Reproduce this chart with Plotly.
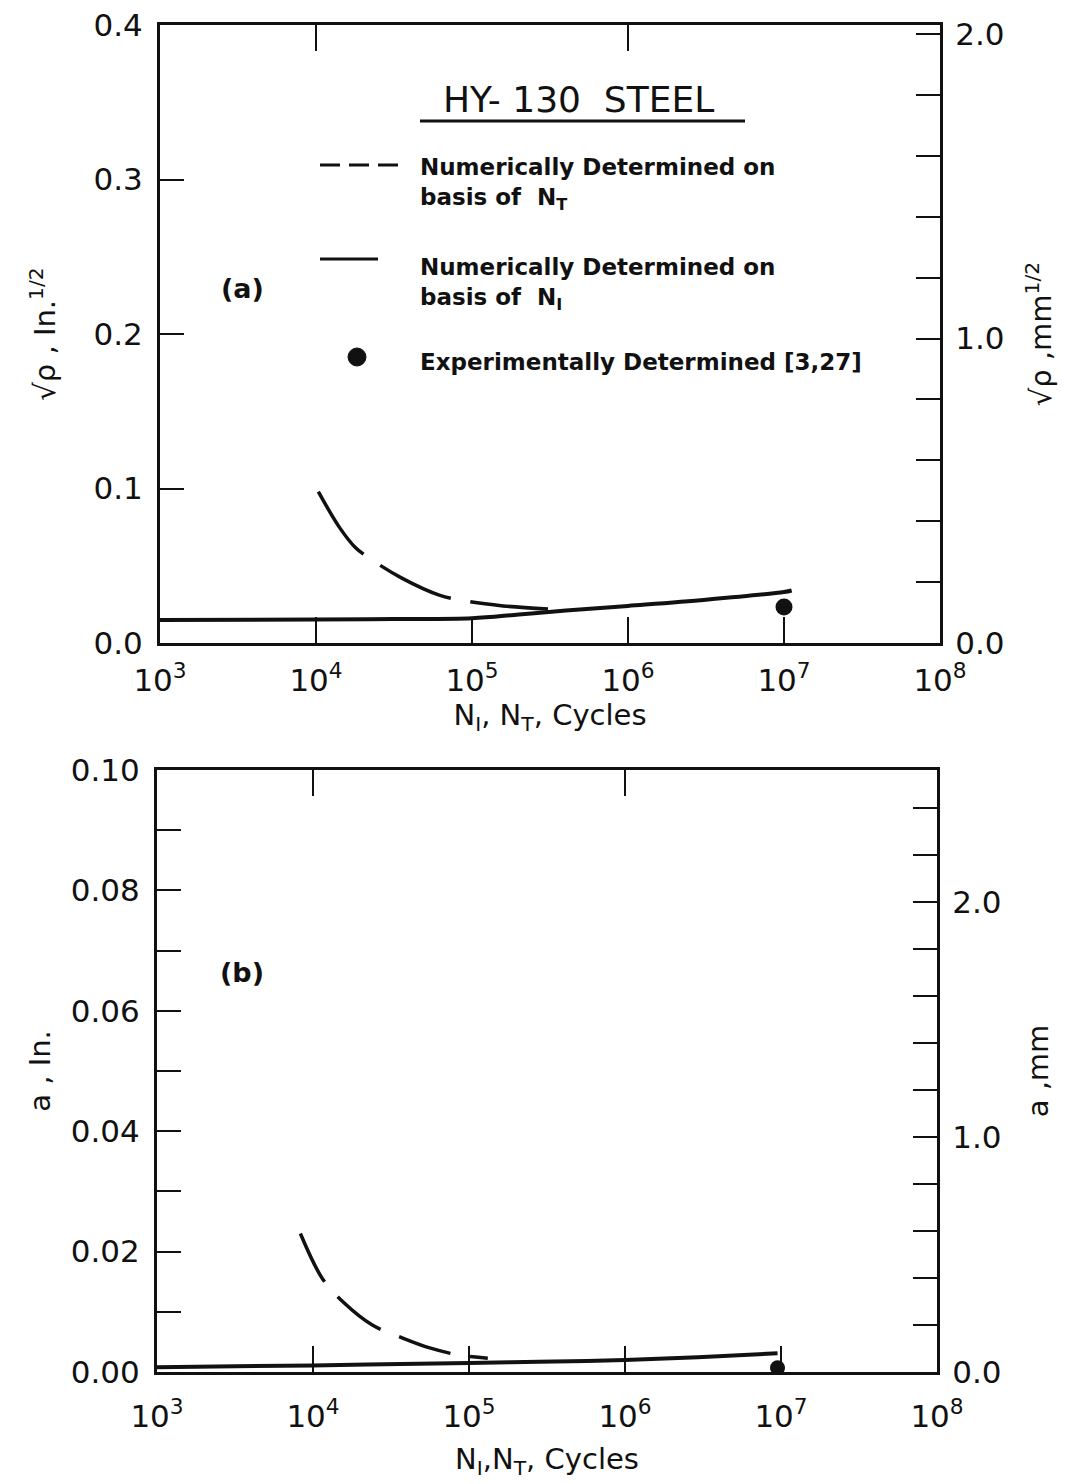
import plotly.graph_objects as go

# ---------------- data ----------------
# Panel (a): sqrt(rho), in^1/2 vs cycles
a_nt_cycles = [1.035e4, 1.41e4, 1.78e4, 2.19e4, 3.55e4, 6.17e4, 9.3e4, 1.58e5, 3.09e5]
a_nt_rho = [0.098, 0.075, 0.062, 0.055, 0.042, 0.031, 0.027, 0.024, 0.022]
a_ni_cycles = [1e3, 1e4, 3.16e4, 1e5, 2.0e5, 4.0e5, 1e6, 3.16e6, 1e7, 1.12e7]
a_ni_rho = [0.0149, 0.0152, 0.0155, 0.016, 0.0185, 0.021, 0.024, 0.028, 0.033, 0.034]
a_exp_cycles = [1.0e7]
a_exp_rho = [0.0233]

# Panel (b): a, in vs cycles
b_nt_cycles = [8.3e3, 1.15e4, 1.58e4, 2.4e4, 3.63e4, 5.6e4, 8.7e4, 1.32e5]
b_nt_a = [0.023, 0.0155, 0.0115, 0.0078, 0.0058, 0.0040, 0.0028, 0.0023]
b_ni_cycles = [1e3, 1e4, 1e5, 2.8e5, 1e6, 3.16e6, 9.5e6]
b_ni_a = [0.0008, 0.0011, 0.0015, 0.0017, 0.0020, 0.0025, 0.0031]
b_exp_cycles = [9.5e6]
b_exp_a = [0.0007]

x_tickvals = [1e3, 1e4, 1e5, 1e6, 1e7, 1e8]
x_ticktext = ["10<sup>3</sup>", "10<sup>4</sup>", "10<sup>5</sup>",
              "10<sup>6</sup>", "10<sup>7</sup>", "10<sup>8</sup>"]

a_left_vals = [0.0, 0.1, 0.2, 0.3, 0.4]
a_left_text = ["0.0", "0.1", "0.2", "0.3", "0.4"]
a_right_vals = [0.0, 0.2, 0.4, 0.6, 0.8, 1.0, 1.2, 1.4, 1.6, 1.8, 2.0]
a_right_text = ["0.0", " ", " ", " ", " ", "1.0", " ", " ", " ", " ", "2.0"]
b_left_vals = [0.00, 0.01, 0.02, 0.03, 0.04, 0.05, 0.06, 0.07, 0.08, 0.09, 0.10]
b_left_text = ["0.00", " ", "0.02", " ", "0.04", " ", "0.06", " ", "0.08", " ", "0.10"]
b_right_vals = [0.0, 0.2, 0.4, 0.6, 0.8, 1.0, 1.2, 1.4, 1.6, 1.8, 2.0, 2.2, 2.4]
b_right_text = ["0.0", " ", " ", " ", " ", "1.0", " ", " ", " ", " ", "2.0", " ", " "]

FONT = "DejaVu Sans"
BLACK = "#111111"
W, H = 1066, 1484


def px(x):
    return x / W


def py(y):
    return 1 - y / H


fig = go.Figure()

# Panel (a)
fig.add_trace(go.Scatter(x=a_nt_cycles, y=a_nt_rho, mode="lines", line_shape="spline",
                         line=dict(color=BLACK, width=3.5, dash="78px,20px"),
                         xaxis="x", yaxis="y", showlegend=False))
fig.add_trace(go.Scatter(x=a_ni_cycles, y=a_ni_rho, mode="lines", line_shape="spline",
                         line=dict(color=BLACK, width=4),
                         xaxis="x", yaxis="y", showlegend=False))
fig.add_trace(go.Scatter(x=a_exp_cycles, y=a_exp_rho, mode="markers",
                         marker=dict(color=BLACK, size=17),
                         xaxis="x", yaxis="y", showlegend=False))
# Panel (b)
fig.add_trace(go.Scatter(x=b_nt_cycles, y=b_nt_a, mode="lines", line_shape="spline",
                         line=dict(color=BLACK, width=3.5, dash="54px,20px"),
                         xaxis="x2", yaxis="y3", showlegend=False))
fig.add_trace(go.Scatter(x=b_ni_cycles, y=b_ni_a, mode="lines", line_shape="spline",
                         line=dict(color=BLACK, width=4),
                         xaxis="x2", yaxis="y3", showlegend=False))
fig.add_trace(go.Scatter(x=b_exp_cycles, y=b_exp_a, mode="markers",
                         marker=dict(color=BLACK, size=15),
                         xaxis="x2", yaxis="y3", showlegend=False))
# invisible traces to activate secondary axes
for xa, ya in [("x", "y2"), ("x2", "y4"), ("x3", "y"), ("x4", "y3")]:
    fig.add_trace(go.Scatter(x=[None], y=[None], xaxis=xa, yaxis=ya,
                             showlegend=False, hoverinfo="skip"))

tick_font = dict(family=FONT, size=31, color=BLACK)
title_font = dict(family=FONT, size=29, color=BLACK)

xdom_a = [px(160), px(940)]
ydom_a = [py(643), py(25)]
xdom_b = [px(157), px(937)]
ydom_b = [py(1372), py(770)]

common_x = dict(type="log", range=[3, 8], showline=True, linecolor=BLACK, linewidth=3,
                ticks="inside", ticklen=26, tickwidth=2, tickcolor=BLACK,
                tickvals=x_tickvals, ticktext=x_ticktext, tickfont=tick_font,
                automargin=False, showgrid=False, zeroline=False, mirror=True)

common_y = dict(showline=True, linecolor=BLACK, linewidth=3, ticks="inside", ticklen=24,
                tickwidth=2, tickcolor=BLACK, tickfont=tick_font, showgrid=False,
                zeroline=False, automargin=False)

fig.update_layout(
    width=W, height=H,
    margin=dict(l=0, r=0, t=0, b=0, autoexpand=False),
    paper_bgcolor="white", plot_bgcolor="white",
    font=dict(family=FONT, color=BLACK),
    xaxis=dict(common_x, domain=xdom_a, anchor="y", ticklabelstandoff=8,
               title=dict(text="N<sub>I</sub>, N<sub>T</sub>, Cycles", font=title_font, standoff=8)),
    xaxis2=dict(common_x, domain=xdom_b, anchor="y3", ticklabelstandoff=15,
                title=dict(text="N<sub>I</sub>,N<sub>T</sub>, Cycles", font=title_font, standoff=16)),
    xaxis3=dict(type="log", range=[3, 8], overlaying="x", anchor="y", side="top",
                ticks="inside", ticklen=26, tickwidth=2, tickcolor=BLACK, automargin=False,
                tickvals=[1e4, 1e6], showticklabels=False, showgrid=False, showline=False),
    xaxis4=dict(type="log", range=[3, 8], overlaying="x2", anchor="y3", side="top",
                ticks="inside", ticklen=26, tickwidth=2, tickcolor=BLACK, automargin=False,
                tickvals=[1e4, 1e6], showticklabels=False, showgrid=False, showline=False),
    yaxis=dict(common_y, domain=ydom_a, anchor="x", range=[0, 0.4],
               tickvals=a_left_vals, ticktext=a_left_text, ticklabelstandoff=8,
               title=dict(text="√ρ , In.<sup>1/2</sup>", font=title_font, standoff=30)),
    yaxis2=dict(common_y, overlaying="y", anchor="x", side="right", range=[0, 2.03],
                tickvals=a_right_vals, ticktext=a_right_text, ticklabelstandoff=6,
                title=dict(text="√ρ ,mm<sup>1/2</sup>", font=title_font, standoff=28)),
    yaxis3=dict(common_y, domain=ydom_b, anchor="x2", range=[0, 0.1],
                tickvals=b_left_vals, ticktext=b_left_text, ticklabelstandoff=8,
                title=dict(text="a , In.", font=title_font, standoff=12)),
    yaxis4=dict(common_y, overlaying="y3", anchor="x2", side="right", range=[0, 2.56],
                tickvals=b_right_vals, ticktext=b_right_text, ticklabelstandoff=6,
                title=dict(text="a ,mm", font=title_font, standoff=28)),
)

leg_font = dict(family=FONT, size=23, color=BLACK, weight="bold")
ann = []
ann.append(dict(text="HY- 130  STEEL", x=px(578), y=py(100), xref="paper", yref="paper",
                xanchor="center", yanchor="middle",
                showarrow=False, font=dict(family=FONT, size=36, color=BLACK)))
ann.append(dict(text="Numerically Determined on<br>basis of  N<sub>T</sub>", x=px(418), y=py(152),
                xref="paper", yref="paper", xanchor="left", yanchor="top", align="left",
                showarrow=False, font=leg_font))
ann.append(dict(text="Numerically Determined on<br>basis of  N<sub>I</sub>", x=px(418), y=py(252),
                xref="paper", yref="paper", xanchor="left", yanchor="top", align="left",
                showarrow=False, font=leg_font))
ann.append(dict(text="Experimentally Determined [3,27]", x=px(418), y=py(362),
                xref="paper", yref="paper", xanchor="left", yanchor="middle", align="left",
                showarrow=False, font=leg_font))
ann.append(dict(text="(a)", x=px(242), y=py(288), xref="paper", yref="paper",
                xanchor="center", yanchor="middle",
                showarrow=False, font=dict(family=FONT, size=27, color=BLACK, weight="bold")))
ann.append(dict(text="(b)", x=px(242), y=py(972), xref="paper", yref="paper",
                xanchor="center", yanchor="middle",
                showarrow=False, font=dict(family=FONT, size=27, color=BLACK, weight="bold")))
fig.update_layout(annotations=ann)

shapes = [
    # underline of title
    dict(type="line", xref="paper", yref="paper", x0=px(420), x1=px(745), y0=py(121), y1=py(121),
         line=dict(color=BLACK, width=3)),
    # legend samples
    dict(type="line", xref="paper", yref="paper", x0=px(320), x1=px(402), y0=py(165), y1=py(165),
         line=dict(color=BLACK, width=3, dash="20px,9px")),
    dict(type="line", xref="paper", yref="paper", x0=px(320), x1=px(378), y0=py(259), y1=py(259),
         line=dict(color=BLACK, width=3)),
    dict(type="circle", xref="paper", yref="paper", x0=px(348), x1=px(366), y0=py(366), y1=py(348),
         fillcolor=BLACK, line=dict(color=BLACK, width=1)),
]
fig.update_layout(shapes=shapes)

fig.write_html("out.html")
